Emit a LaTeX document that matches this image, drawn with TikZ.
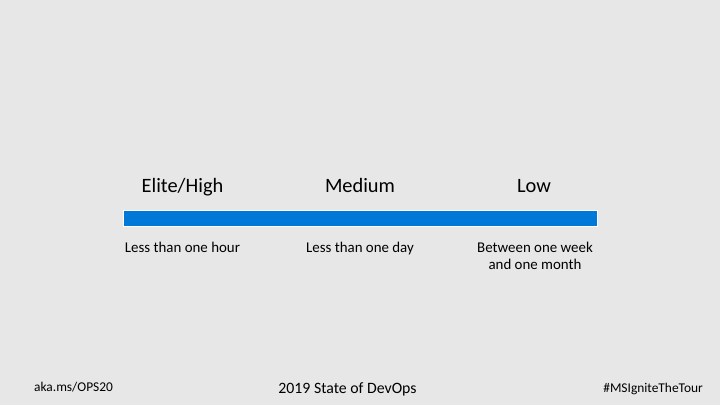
\documentclass[tikz,border=0pt]{standalone}
\usepackage{fontspec}
\setmainfont{Carlito}
\definecolor{bg}{HTML}{E7E7E7}
\definecolor{barblue}{HTML}{0078D7}
\begin{document}
\begin{tikzpicture}[x=1pt,y=-1pt,
  head/.style={font=\fontsize{20.4}{25}\selectfont, anchor=base, inner sep=0pt},
  lab/.style={font=\fontsize{14.9}{17}\selectfont, anchor=base, inner sep=0pt, align=center},
  foot/.style={font=\fontsize{13.4}{15}\selectfont, anchor=base, inner sep=0pt}]
\fill[bg] (0,0) rectangle (720,405);
\useasboundingbox (0,0) rectangle (720,405);
\node[head] (h1) at (182.5,192) {Elite/High};
\node[head] (h2) at (360,192) {Medium};
\node[head] (h3) at (534,192) {Low};
\node[draw=white, line width=0.8pt, fill=barblue, minimum width=474pt, minimum height=16pt, inner sep=0pt] (bar) at (360,218) {};
\node[lab] (l1) at (182.5,252.5) {Less than one hour};
\node[lab] (l2) at (360,252.5) {Less than one day};
\node[lab] (l3) at (535,252.5) {Between one week};
\node[lab] (l4) at (535,269.5) {and one month};
\node[foot, anchor=base west] (f1) at (34,391) {aka.ms/OPS20};
\node[foot, font=\fontsize{15.8}{18}\selectfont] (f2) at (347.5,393) {2019 State of DevOps};
\node[foot, anchor=base east] (f3) at (703,392) {\#MSIgniteTheTour};
\end{tikzpicture}
\end{document}
